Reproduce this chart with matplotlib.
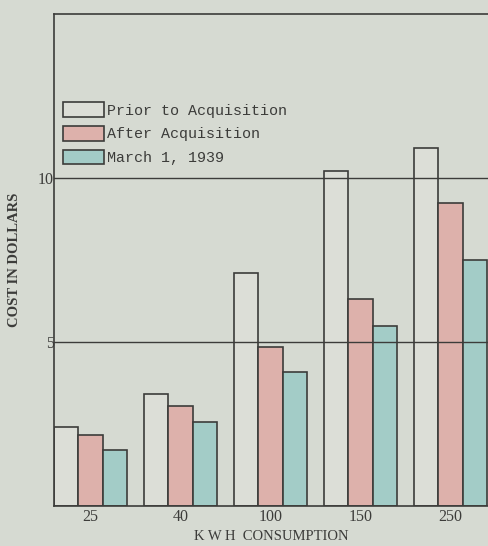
import numpy as np
import matplotlib
matplotlib.use("Agg")
import matplotlib.pyplot as plt

# values (dollars)
kwh = ["25", "40", "100", "150", "250"]
prior = [2.4, 3.4, 7.1, 10.2, 10.9]
after = [2.15, 3.05, 4.85, 6.3, 9.25]
march = [1.7, 2.55, 4.1, 5.5, 7.5]
labels = ["Prior to Acquisition", "After Acquisition", "March 1, 1939"]

bg = "#d6dad2"
ink = "#3c3c3a"
colors = ["#dcded7", "#ddb1ab", "#a3ccc7"]

fig = plt.figure(figsize=(4.89, 5.46), dpi=100, facecolor=bg)
ax = fig.add_axes([54 / 489, 40 / 546, 435 / 489, 492 / 546], facecolor=bg)

x = np.arange(len(kwh))
w = 0.272
for k, (vals, c, lab) in enumerate(zip([prior, after, march], colors, labels)):
    ax.bar(x + k * w, vals, w, align="edge", color=c, edgecolor=ink,
           linewidth=1.2, label=lab, zorder=2)

for yv in (5, 10):
    ax.axhline(yv, color=ink, lw=1.0, zorder=3)

ax.set_xlim(0, 435 / 90)
ax.set_ylim(0, 15)
ax.set_yticks([5, 10])
ax.set_yticklabels(["5", "10"], fontfamily="Liberation Serif", fontsize=11.5, color=ink)
ax.set_xticks(x + 1.5 * w)
ax.set_xticklabels(kwh, fontfamily="Liberation Serif", fontsize=11.5, color=ink)
ax.tick_params(length=0, pad=2)
ax.tick_params(axis="y", pad=0)

for s in ("left", "top", "bottom"):
    ax.spines[s].set_color(ink)
    ax.spines[s].set_linewidth(1.2)
ax.spines["right"].set_visible(False)

ax.set_ylabel("COST IN DOLLARS", fontfamily="Liberation Serif", fontweight="bold",
              fontsize=10.5, color=ink, labelpad=12)
ax.set_xlabel("K W H  CONSUMPTION", fontfamily="Liberation Serif", fontsize=10.5,
              color=ink, labelpad=4)

leg = ax.legend(loc="upper left", bbox_to_anchor=(9 / 435, 1 - 88 / 492),
                frameon=False, prop={"family": "Liberation Mono", "size": 10.8},
                handlelength=2.7, handleheight=1.15, handletextpad=0.25,
                labelspacing=0.55, borderaxespad=0, borderpad=0)
for t in leg.get_texts():
    t.set_color(ink)

fig.savefig("out.png", dpi=100, facecolor=bg)
